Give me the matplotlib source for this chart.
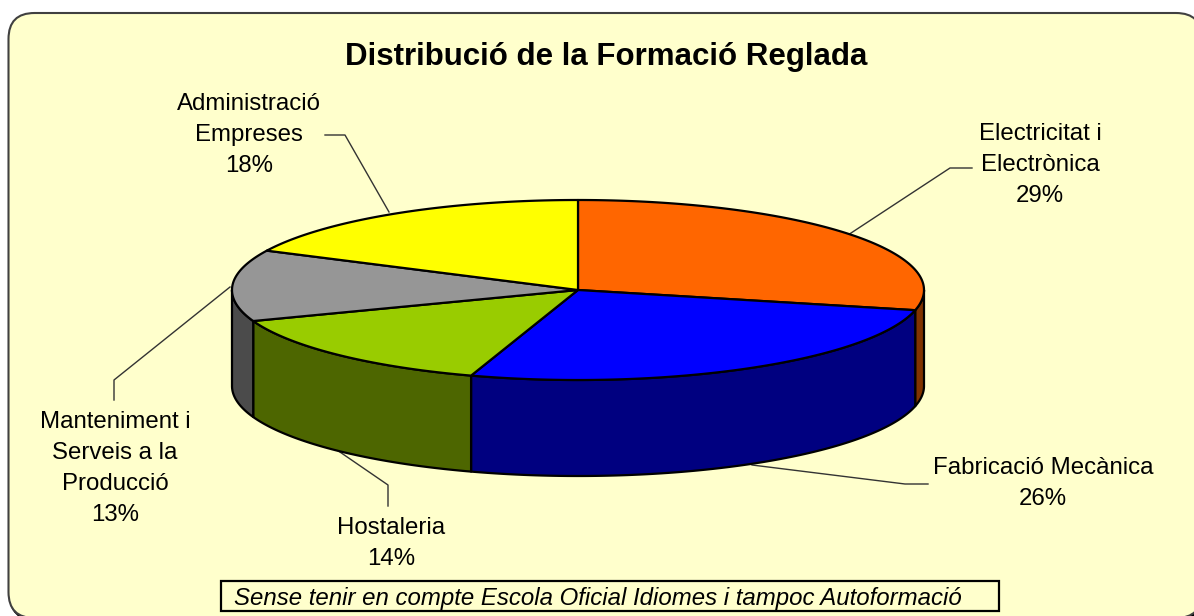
import numpy as np
import matplotlib
matplotlib.use('Agg')
import matplotlib.pyplot as plt
from matplotlib.patches import FancyBboxPatch, Rectangle

plt.rcParams['font.family'] = ['Liberation Sans', 'DejaVu Sans']

# clockwise from 12 o'clock
categories = ['Electricitat i\nElectrònica', 'Fabricació Mecànica', 'Hostaleria',
              'Manteniment i\nServeis a la\nProducció', 'Administració\nEmpreses']
shares = [28.6, 26.4, 14.4, 12.8, 17.8]
top_colors = ['#FF6600', '#0000FF', '#99CC00', '#969696', '#FFFF00']
side_colors = ['#803300', '#000080', '#4D6600', '#4B4B4B', '#808000']
label_xy = [(1040, 123), (1043, 457), (391, 517), (115, 411), (249, 93)]
title = 'Distribució de la Formació Reglada'
note = 'Sense tenir en compte Escola Oficial Idiomes i tampoc Autoformació'

# leader lines
leaders = [
    [(848, 235), (950, 168), (972, 168)],
    [(752, 465), (905, 484), (928, 484)],
    [(337, 450), (388, 485), (388, 506)],
    [(230, 287), (114, 380), (114, 400)],
    [(389, 212), (345, 135), (325, 135)],
]

cx, cy, rx, ry, depth = 578, 290, 346, 90, 96


def rim(a0, a1):
    t = np.radians(np.linspace(a0, a1, 200))
    return cx + rx * np.sin(t), cy - ry * np.cos(t)


fig = plt.figure(figsize=(11.94, 6.16), dpi=100)
ax = fig.add_axes([0, 0, 1, 1])
ax.set_xlim(0, 1194)
ax.set_ylim(616, 0)
ax.axis('off')

# card + shadow
ax.add_patch(FancyBboxPatch((10, 15), 1193.5, 605, boxstyle='round,pad=0,rounding_size=26',
                            fc='black', ec='black', lw=1.5, zorder=1))
ax.add_patch(FancyBboxPatch((8.5, 13), 1193.5, 605, boxstyle='round,pad=0,rounding_size=26',
                            fc='#FFFFCC', ec='#404040', lw=1.5, zorder=2))

edges = np.concatenate([[0], np.cumsum(shares)]) * 360 / sum(shares)

# side wall, only the front half of the rim shows
for i in range(len(shares)):
    a0, a1 = max(edges[i], 90), min(edges[i + 1], 270)
    if a0 >= a1:
        continue
    x, y = rim(a0, a1)
    ax.fill(np.r_[x, x[::-1]], np.r_[y, y[::-1] + depth], fc=side_colors[i],
            ec='black', lw=1.6, joinstyle='round', zorder=3)

# top face
for i in range(len(shares)):
    x, y = rim(edges[i], edges[i + 1])
    ax.fill(np.r_[cx, x], np.r_[cy, y], fc=top_colors[i], ec='black', lw=1.6,
            joinstyle='round', zorder=4)

for pts in leaders:
    xs, ys = zip(*pts)
    ax.plot(xs, ys, color='#333333', lw=1, zorder=2.5)

for cat, share, (lx, ly) in zip(categories, shares, label_xy):
    ax.text(lx, ly, f'{cat}\n{share:.0f}%', ha='center', va='top', fontsize=17.3,
            linespacing=1.52, color='black', zorder=6)

ax.text(606, 57, title, ha='center', va='center', fontsize=22.5, fontweight='bold', zorder=6)

ax.add_patch(Rectangle((221, 581), 778, 30, fc='#FFFFCC', ec='black', lw=1.6, zorder=5))
ax.text(598, 598, note, ha='center', va='center', fontsize=17.3, style='italic', zorder=6)

fig.savefig('out.png', dpi=100)
